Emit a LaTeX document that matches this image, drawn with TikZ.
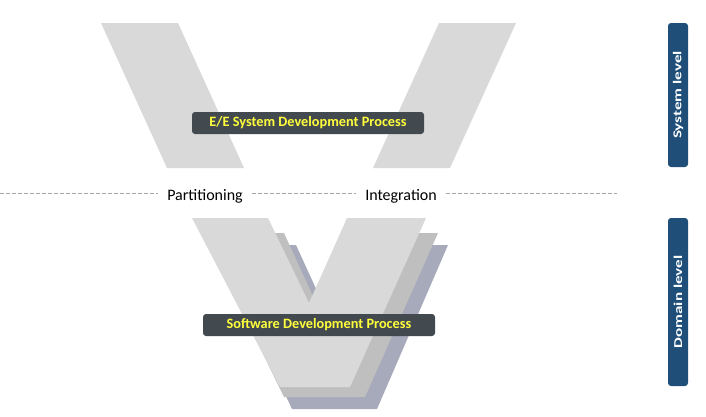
\documentclass[tikz,border=0pt]{standalone}
\usepackage{fontspec}
\setmainfont{Carlito}
\definecolor{vlight}{HTML}{D9D9D9}
\definecolor{vmid}{HTML}{BFBFBF}
\definecolor{vblue}{HTML}{A7AABA}
\definecolor{labelbg}{HTML}{434A4F}
\definecolor{labeltxt}{HTML}{FFFF3C}
\definecolor{levelbg}{HTML}{1F4E79}
\definecolor{dashgray}{HTML}{A6A6A6}
\tikzset{
  procbox/.style={fill=labelbg, rounded corners=3pt, minimum width=232pt, minimum height=22pt,
    inner sep=0pt, text=labeltxt, font=\fontsize{14.3}{17}\selectfont\bfseries},
  levelbar/.style={fill=levelbg, rounded corners=3pt, minimum width=20pt, inner sep=0pt},
  leveltext/.style={rotate=90, text=white, font=\fontsize{12}{14}\selectfont\bfseries},
  phase/.style={anchor=base, inner xsep=9pt, font=\fontsize{16}{19}\selectfont},
  sep/.style={dashgray, line width=0.9pt, dash pattern=on 4pt off 2pt}
}
\begin{document}
\begin{tikzpicture}[x=1pt, y=-1pt]
\useasboundingbox (0,0) rectangle (706,416);

% system-level V: two separate arms
\fill[vlight] (101,23) -- (178,23) -- (244,168) -- (167,168) -- cycle;
\fill[vlight] (439,23) -- (516,23) -- (450,168) -- (373,168) -- cycle;

% domain-level V: stacked copies, back to front
\fill[vblue] (216,245) -- (296,245) -- (334,328) -- (372,245) -- (448,245)
  -- (377,409) -- (292,409) -- cycle;
\fill[vmid] (204,233) -- (284,233) -- (322,316) -- (360,233) -- (438,233)
  -- (365,397) -- (284,397) -- cycle;
\fill[vlight] (192,218) -- (268,218) -- (309,303) -- (347,218) -- (426,218)
  -- (350,387) -- (280,387) -- cycle;

% process labels
\node[procbox] (sysproc) at (308,123) {E/E System Development Process};
\node[procbox] (swproc) at (319,325) {Software Development Process};

% boundary between the levels
\coordinate (dl) at (0,193.5);
\coordinate (dr) at (617,193.5);
\node[phase] (part) at (205,200) {Partitioning};
\node[phase] (integ) at (401,200) {Integration};
\draw[sep] (dl) -- (dl -| part.west);
\draw[sep] (dl -| part.east) -- (dl -| integ.west);
\draw[sep] (dl -| integ.east) -- (dr);

% level bars
\node[levelbar, minimum height=144pt] (sysbar) at (678,95) {};
\node[leveltext] (syslbl) at (sysbar.center) {\scalebox{1.42}[1]{System level}};
\node[levelbar, minimum height=168pt] (dombar) at (678,302) {};
\node[leveltext] (domlbl) at (dombar.center) {\scalebox{1.42}[1]{Domain level}};
\end{tikzpicture}
\end{document}
